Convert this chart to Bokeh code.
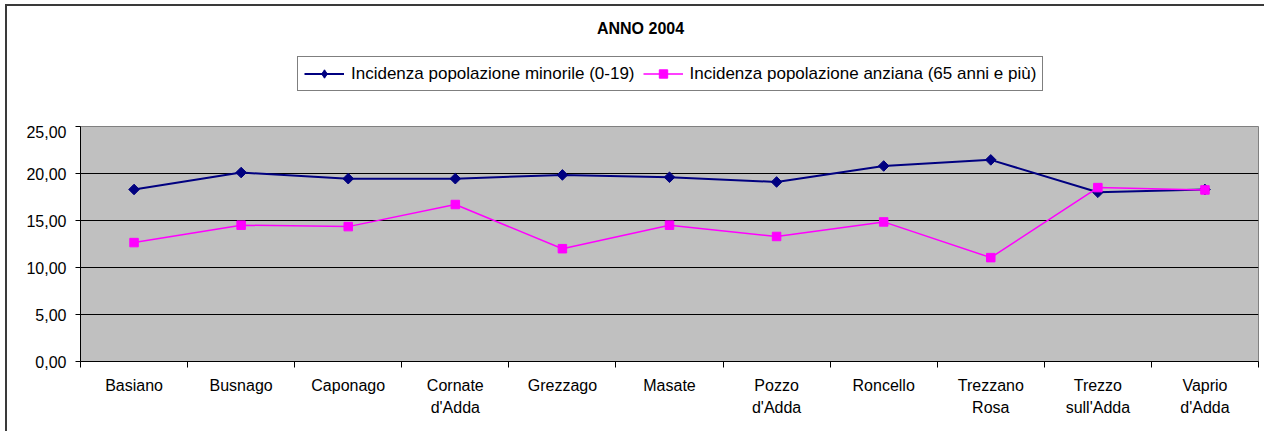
import numpy as np
from bokeh.plotting import figure
from bokeh.layouts import column
from bokeh.models import (Range1d, FixedTicker, CustomJSTickFormatter, Legend, LegendItem,
                          Label, ColumnDataSource)
from bokeh.embed import file_html
from bokeh.resources import INLINE

# ---- data ----
title_text = "ANNO 2004"
comuni = ["Basiano", "Busnago", "Caponago", "Cornate\nd'Adda", "Grezzago", "Masate",
          "Pozzo\nd'Adda", "Roncello", "Trezzano\nRosa", "Trezzo\nsull'Adda", "Vaprio\nd'Adda"]
minorile = [18.3, 20.1, 19.45, 19.45, 19.85, 19.6, 19.1, 20.8, 21.45, 18.0, 18.3]
anziana = [12.65, 14.5, 14.35, 16.7, 12.0, 14.5, 13.3, 14.85, 11.05, 18.5, 18.25]
name_minorile = "Incidenza popolazione minorile (0-19)"
name_anziana = "Incidenza popolazione anziana (65 anni e più)"
y_ticks = [0, 5, 10, 15, 20, 25]

FONT = "Liberation Sans"
BLUE = "#000080"
PINK = "#FF00FF"
n = len(comuni)
xs = np.arange(n) + 0.5
src = ColumnDataSource(dict(x=xs, m=minorile, a=anziana))

# ---- header figure (title + legend); its x-range shows none of the data ----
top = figure(width=1257, height=119, output_backend="svg", toolbar_location=None,
             x_range=Range1d(-3, -2), y_range=Range1d(0, 25),
             x_axis_type=None, y_axis_type=None,
             min_border_left=0, min_border_right=0, min_border_top=0, min_border_bottom=0)
top.outline_line_color = None
top.background_fill_color = "white"
top.border_fill_color = "white"
top.grid.visible = False
top.title = None

dl1 = top.line("x", "m", source=src, line_color=BLUE, line_width=2)
ds1 = top.scatter("x", "m", source=src, marker="diamond", size=12, fill_color=BLUE, line_color=BLUE)
dl2 = top.line("x", "a", source=src, line_color=PINK, line_width=1.5)
ds2 = top.scatter("x", "a", source=src, marker="square", size=8.5, fill_color=PINK, line_color=PINK)

legend = Legend(items=[LegendItem(label=name_minorile, renderers=[dl1, ds1]),
                       LegendItem(label=name_anziana, renderers=[dl2, ds2])],
                orientation="horizontal", location=(217, 34), margin=0,
                padding=6, spacing=8, glyph_width=40, glyph_height=21, label_height=21,
                label_standoff=7, label_text_font=FONT, label_text_font_size="17px",
                label_text_color="black", border_line_color="black", border_line_width=1,
                background_fill_color="white", background_fill_alpha=1.0)
top.add_layout(legend, "center")

title = Label(x=560, y=97, x_units="screen", y_units="screen", text=title_text,
              text_align="center", text_baseline="middle", text_font=FONT,
              text_font_size="16px", text_font_style="bold", text_color="black")
top.add_layout(title)

# ---- main chart ----
p = figure(width=1257, height=306, output_backend="svg", toolbar_location=None,
           x_range=Range1d(0, n), y_range=Range1d(0, 25),
           min_border_left=73, min_border_right=6, min_border_top=1, min_border_bottom=70)
p.title = None
p.background_fill_color = "#C0C0C0"
p.border_fill_color = "white"
p.outline_line_color = "#808080"
p.outline_line_width = 1

p.xaxis.ticker = FixedTicker(ticks=list(xs), minor_ticks=list(range(n + 1)))
p.xaxis.formatter = CustomJSTickFormatter(args=dict(labels=comuni),
                                          code="return labels[Math.floor(tick)];")
p.xaxis.major_tick_out = 0
p.xaxis.major_tick_in = 0
p.xaxis.minor_tick_out = 6
p.xaxis.minor_tick_in = 0
p.xaxis.minor_tick_line_color = "black"
p.xaxis.axis_line_color = "black"
p.xaxis.major_label_standoff = 9
p.xaxis.major_label_text_font = FONT
p.xaxis.major_label_text_font_size = "16px"
p.xaxis.major_label_text_color = "black"
p.xaxis.major_label_text_line_height = 1.35

p.yaxis.ticker = FixedTicker(ticks=y_ticks, minor_ticks=[])
p.yaxis.formatter = CustomJSTickFormatter(code="return tick.toFixed(2).replace('.', ',');")
p.yaxis.major_tick_out = 5
p.yaxis.major_tick_in = 0
p.yaxis.major_tick_line_color = "black"
p.yaxis.axis_line_color = "black"
p.yaxis.major_label_standoff = 9
p.yaxis.major_label_text_font = FONT
p.yaxis.major_label_text_font_size = "16px"
p.yaxis.major_label_text_color = "black"

p.xgrid.visible = False
p.ygrid.ticker = FixedTicker(ticks=y_ticks)
p.ygrid.grid_line_color = "black"
p.ygrid.grid_line_width = 1

p.line("x", "m", source=src, line_color=BLUE, line_width=2)
p.scatter("x", "m", source=src, marker="square", angle=np.pi / 4, size=7.5,
          fill_color=BLUE, line_color=BLUE)
p.line("x", "a", source=src, line_color=PINK, line_width=1.5)
p.scatter("x", "a", source=src, marker="square", size=8.5,
          fill_color=PINK, line_color=PINK)

layout = column(top, p, spacing=0)
layout.margin = (4, 0, 0, 5)
layout.styles = {"border-top": "2px solid #3a3a3a", "border-left": "2px solid #3a3a3a"}

open("out.html", "w").write(file_html(layout, INLINE))
